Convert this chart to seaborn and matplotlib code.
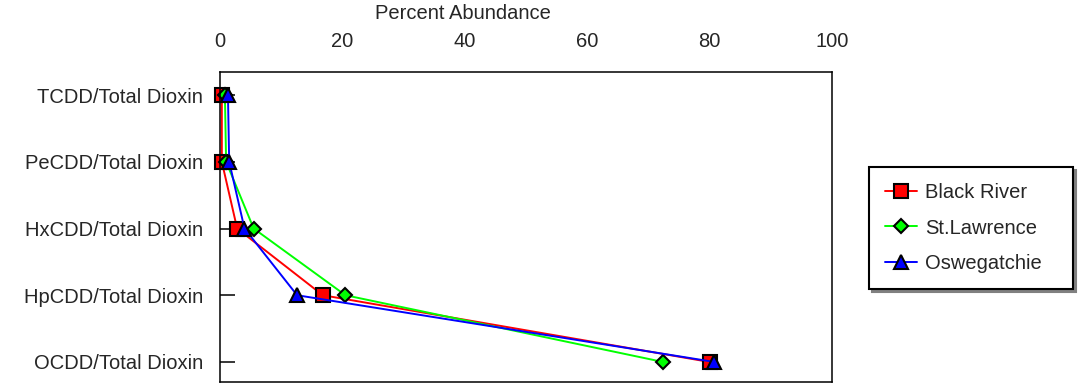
import matplotlib
matplotlib.use("Agg")
import matplotlib.pyplot as plt
import seaborn as sns
import pandas as pd

# Congener ratios (percent of total dioxin) per sampling river
congeners = ["TCDD/Total Dioxin", "PeCDD/Total Dioxin", "HxCDD/Total Dioxin",
             "HpCDD/Total Dioxin", "OCDD/Total Dioxin"]
black_river = [0.3, 0.3, 2.8, 16.8, 80.0]
st_lawrence = [0.8, 1.0, 5.5, 20.5, 72.4]
oswegatchie = [1.3, 1.5, 4.0, 12.6, 80.8]
x_ticks = [0, 20, 40, 60, 80, 100]

series = [
    ("Black River", black_river, "#FF0000", "s", 10),
    ("St.Lawrence", st_lawrence, "#00FF00", "D", 7),
    ("Oswegatchie", oswegatchie, "#0000FF", "^", 10),
]

FS = 14.5

sns.set_style("white")
plt.rcParams["font.family"] = ["Liberation Sans", "DejaVu Sans"]

fig = plt.figure(figsize=(10.78, 3.83), dpi=100)
ax = fig.add_axes([220 / 1078, 1 - 382 / 383, 612 / 1078, 310 / 383])

positions = list(range(len(congeners)))
for name, vals, color, marker, ms in series:
    df = pd.DataFrame({"pct": vals, "pos": positions})
    sns.lineplot(data=df, x="pct", y="pos", sort=False, orient="y", color=color,
                 linewidth=1.4, marker=marker, markersize=ms,
                 markerfacecolor=color, markeredgecolor="black",
                 markeredgewidth=1.5, label=name, clip_on=False, ax=ax)

ax.set_xlim(0, 100)
ax.set_ylim(4.30, -0.345)
ax.set_xticks(x_ticks)
ax.set_yticks(positions)
ax.set_yticklabels(congeners)

ax.xaxis.tick_top()
ax.xaxis.set_label_position("top")
ax.tick_params(axis="x", length=0, pad=15, labelsize=FS)
ax.tick_params(axis="y", direction="in", length=11, width=1.1, pad=12,
               labelsize=FS, left=True, color="black")
ax.set_xlabel("Percent Abundance", fontsize=FS)
ax.xaxis.set_label_coords(0.397, 1.19)
ax.xaxis.label.set_va("center")
ax.set_ylabel("")

for sp in ax.spines.values():
    sp.set_color("black")
    sp.set_linewidth(1.1)

handles, labels = ax.get_legend_handles_labels()
leg = ax.legend(handles, labels, loc="center", mode="expand",
                bbox_to_anchor=(869 / 1078, 1 - 288 / 383, 204 / 1078, 120 / 383),
                bbox_transform=fig.transFigure, fontsize=FS, frameon=True,
                fancybox=False, shadow={"color": "#808080", "alpha": 1},
                handlelength=1.6, handletextpad=0.4, labelspacing=0.8,
                borderpad=0.8, borderaxespad=0)
leg.get_frame().set_edgecolor("black")
leg.get_frame().set_linewidth(1.5)

fig.savefig("out.png", dpi=100)
